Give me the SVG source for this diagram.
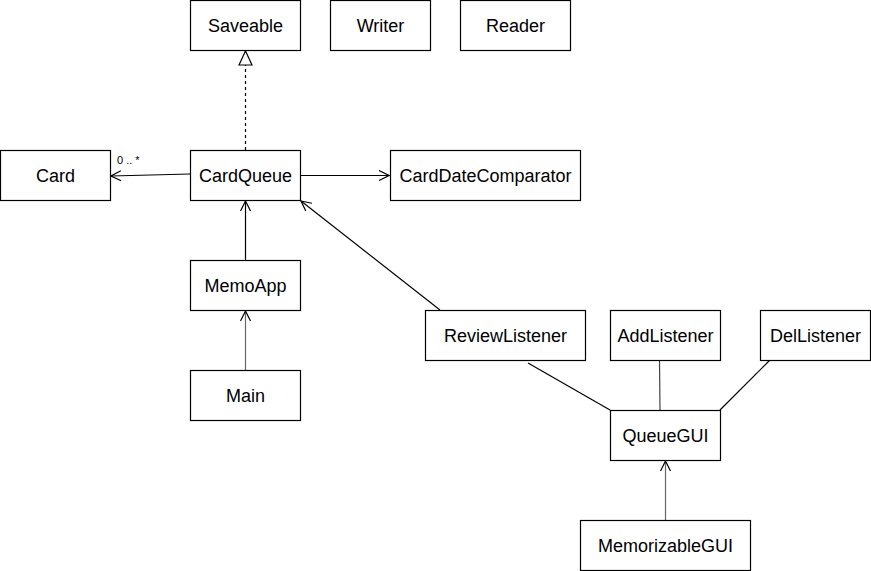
<svg xmlns="http://www.w3.org/2000/svg" width="871" height="571" viewBox="0 0 871 571">
<style>
.n rect{fill:#fff;stroke:#000;stroke-width:1.2}
.n text{font-family:"Liberation Sans",Arial,sans-serif;font-size:18px;fill:#000;text-anchor:middle;dominant-baseline:central}
.c line{stroke:#000;stroke-width:1.2;fill:none}
.lbl{font-family:"Liberation Sans",Arial,sans-serif;font-size:11px;fill:#000}
</style>
<defs>
<marker id="open" viewBox="0 0 12 12" refX="11" refY="6" markerWidth="12" markerHeight="12" orient="auto" markerUnits="userSpaceOnUse">
<path d="M1,1 L11,6 L1,11" fill="none" stroke="#000" stroke-width="1.2"/>
</marker>
<marker id="tri" viewBox="0 0 16 16" refX="15" refY="8" markerWidth="16" markerHeight="16" orient="auto" markerUnits="userSpaceOnUse">
<path d="M1,1.5 L15,8 L1,14.5 Z" fill="#fff" stroke="#000" stroke-width="1.2"/>
</marker>
</defs>
<rect width="871" height="571" fill="#fff"/>
<g id="connectors" class="c">
<line x1="245.5" y1="150" x2="245.5" y2="51" stroke-dasharray="3,3" marker-end="url(#tri)"/>
<line x1="190" y1="174" x2="111" y2="176" marker-end="url(#open)"/>
<line x1="300" y1="175.5" x2="389" y2="175.5" marker-end="url(#open)"/>
<line x1="245.5" y1="260" x2="245.5" y2="201" marker-end="url(#open)"/>
<line x1="245.5" y1="370" x2="245.5" y2="311" style="stroke:#666" marker-end="url(#open)"/>
<line x1="440" y1="310" x2="301" y2="201" marker-end="url(#open)"/>
<line x1="528" y1="363" x2="610" y2="410"/>
<line x1="659.5" y1="360" x2="660" y2="410" style="stroke:#444"/>
<line x1="770" y1="360" x2="720" y2="410"/>
<line x1="665.5" y1="520" x2="665.5" y2="461" style="stroke:#666" marker-end="url(#open)"/>
</g>
<text class="lbl" x="117" y="164">0 .. *</text>
<g id="Saveable" class="n"><rect x="190.5" y="0.5" width="110" height="50"/><text x="245.5" y="25.5">Saveable</text></g>
<g id="Writer" class="n"><rect x="330.5" y="0.5" width="100" height="50"/><text x="380.5" y="25.5">Writer</text></g>
<g id="Reader" class="n"><rect x="460.5" y="0.5" width="110" height="50"/><text x="515.5" y="25.5">Reader</text></g>
<g id="Card" class="n"><rect x="0.5" y="150.5" width="110" height="50"/><text x="55.5" y="175.5">Card</text></g>
<g id="CardQueue" class="n"><rect x="190.5" y="150.5" width="110" height="50"/><text x="245.5" y="175.5">CardQueue</text></g>
<g id="CardDateComparator" class="n"><rect x="390.5" y="150.5" width="190" height="50"/><text x="485.5" y="175.5">CardDateComparator</text></g>
<g id="MemoApp" class="n"><rect x="190.5" y="260.5" width="110" height="50"/><text x="245.5" y="285.5">MemoApp</text></g>
<g id="Main" class="n"><rect x="190.5" y="370.5" width="110" height="50"/><text x="245.5" y="395.5">Main</text></g>
<g id="ReviewListener" class="n"><rect x="425.5" y="310.5" width="160" height="50"/><text x="505.5" y="335.5">ReviewListener</text></g>
<g id="AddListener" class="n"><rect x="610.5" y="310.5" width="110" height="50"/><text x="665.5" y="335.5">AddListener</text></g>
<g id="DelListener" class="n"><rect x="760.5" y="310.5" width="110" height="50"/><text x="815.5" y="335.5">DelListener</text></g>
<g id="QueueGUI" class="n"><rect x="610.5" y="410.5" width="110" height="50"/><text x="665.5" y="435.5">QueueGUI</text></g>
<g id="MemorizableGUI" class="n"><rect x="580.5" y="520.5" width="170" height="50"/><text x="665.5" y="545.5">MemorizableGUI</text></g>
</svg>
